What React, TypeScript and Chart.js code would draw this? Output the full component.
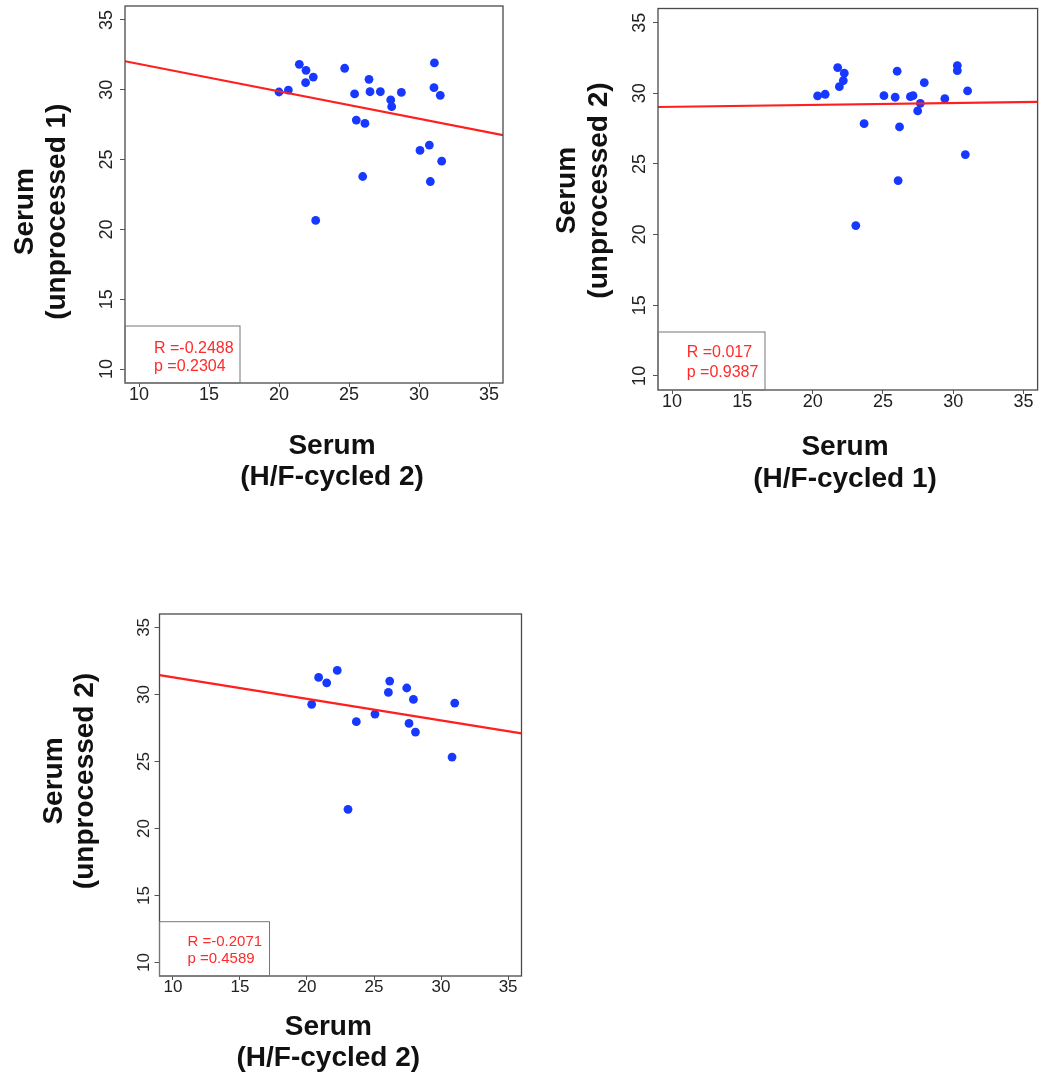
import React, { useEffect, useRef } from 'react';
import Chart from 'chart.js/auto';

// shared axis setup (R-style xlim/ylim 10..35, padded 4%)
const AXIS_TICKS = [10, 15, 20, 25, 30, 35];
const AXIS_MIN = 9;
const AXIS_MAX = 36;

// panel 1: H/F-cycled 2 vs unprocessed 1
const P1_X = [20.0, 20.67, 21.45, 21.93, 22.45, 21.9, 22.62, 24.69, 25.4, 25.52, 26.14, 25.98, 26.43, 26.5, 27.24, 27.98, 28.05, 28.74, 31.1, 31.07, 31.52, 30.07, 30.74, 31.62, 30.81];
const P1_Y = [29.84, 29.98, 31.82, 31.39, 30.91, 30.51, 20.64, 31.54, 29.7, 27.83, 27.59, 23.79, 30.75, 29.86, 29.86, 29.27, 28.79, 29.81, 31.92, 30.15, 29.6, 25.66, 26.04, 24.89, 23.43];
const P1_FIT = [33.81, -0.196]; // intercept, slope
const P1_STATS = ['R =-0.2488', 'p =0.2304'];
const P1_XTITLE = ['Serum', '(H/F-cycled 2)'];
const P1_YTITLE = ['Serum', '(unprocessed 1)'];

// panel 2: H/F-cycled 1 vs unprocessed 2
const P2_X = [20.35, 20.89, 21.78, 22.25, 22.18, 21.9, 23.07, 23.66, 25.07, 25.87, 26.01, 26.18, 26.08, 26.95, 27.14, 27.94, 27.66, 27.47, 29.4, 30.29, 30.29, 31.02, 30.86];
const P2_Y = [29.81, 29.93, 31.82, 31.42, 30.9, 30.47, 20.64, 27.85, 29.83, 29.72, 31.56, 27.62, 23.82, 29.76, 29.83, 30.75, 29.29, 28.75, 29.62, 31.96, 31.6, 30.17, 25.66];
const P2_FIT = [28.91, 0.0133];
const P2_STATS = ['R =0.017', 'p =0.9387'];
const P2_XTITLE = ['Serum', '(H/F-cycled 1)'];
const P2_YTITLE = ['Serum', '(unprocessed 2)'];

// panel 3: H/F-cycled 2 vs unprocessed 2
const P3_X = [20.35, 20.87, 21.47, 22.26, 23.06, 23.68, 25.07, 26.07, 26.17, 27.44, 27.94, 27.61, 28.09, 30.82, 31.02];
const P3_Y = [29.26, 31.27, 30.87, 31.79, 21.43, 27.97, 28.54, 30.15, 31.0, 30.48, 29.63, 27.84, 27.19, 25.33, 29.36];
const P3_FIT = [32.89, -0.161];
const P3_STATS = ['R =-0.2071', 'p =0.4589'];
const P3_XTITLE = ['Serum', '(H/F-cycled 2)'];
const P3_YTITLE = ['Serum', '(unprocessed 2)'];

const FONT = '"Liberation Sans", Arial, Helvetica, sans-serif';
const PAGE_W = 1042;
const PAGE_H = 1078;
const Y_AXIS_W = 60;
const X_AXIS_H = 40;

interface Layout {
  area: { left: number; top: number; right: number; bottom: number };
  tickSize: number;
  yLabelPad: number;
  statBox: { w: number; h: number; tx: number; b1: number; b2: number; size: number };
  xTitle: { cx: number; b1: number; b2: number };
  yTitle: { cy: number; b1: number; b2: number };
}

interface PanelProps {
  xs: number[];
  ys: number[];
  fit: number[];
  stats: string[];
  xTitle: string[];
  yTitle: string[];
  layout: Layout;
}

const ScatterPanel: React.FC<PanelProps> = ({ xs, ys, fit, stats, xTitle, yTitle, layout }) => {
  const canvasRef = useRef<HTMLCanvasElement>(null);
  const chartRef = useRef<Chart | null>(null);

  useEffect(() => {
    if (!canvasRef.current) return;
    if (chartRef.current) chartRef.current.destroy();

    const { area, statBox } = layout;
    const points = xs.map((x, i) => ({ x, y: ys[i] }));
    const fitLine = [AXIS_MIN, AXIS_MAX].map(x => ({ x, y: fit[0] + fit[1] * x }));

    // box around the plot, the R/p inset and the two-line axis titles
    const rFrame = {
      id: 'rFrame',
      afterDraw(chart: Chart) {
        const { ctx, chartArea: a } = chart;
        ctx.save();
        ctx.strokeStyle = '#4a4a4a';
        ctx.lineWidth = 1.3;
        ctx.strokeRect(a.left, a.top, a.right - a.left, a.bottom - a.top);

        ctx.strokeStyle = '#777';
        ctx.lineWidth = 1;
        ctx.strokeRect(a.left, a.bottom - statBox.h, statBox.w, statBox.h);
        ctx.fillStyle = '#ff2a2a';
        ctx.font = `${statBox.size}px ${FONT}`;
        ctx.textAlign = 'left';
        ctx.textBaseline = 'alphabetic';
        ctx.fillText(stats[0], a.left + statBox.tx, a.bottom - statBox.b1);
        ctx.fillText(stats[1], a.left + statBox.tx, a.bottom - statBox.b2);

        ctx.fillStyle = '#111';
        ctx.font = `bold 28px ${FONT}`;
        ctx.textAlign = 'center';
        ctx.fillText(xTitle[0], layout.xTitle.cx, layout.xTitle.b1);
        ctx.fillText(xTitle[1], layout.xTitle.cx, layout.xTitle.b2);

        ctx.translate(0, layout.yTitle.cy);
        ctx.rotate(-Math.PI / 2);
        ctx.fillText(yTitle[0], 0, layout.yTitle.b1);
        ctx.fillText(yTitle[1], 0, layout.yTitle.b2);
        ctx.restore();
      },
    };

    const fixTicks = (scale: any) => {
      scale.ticks = AXIS_TICKS.map(v => ({ value: v }));
    };
    const noPad = (scale: any) => {
      scale.paddingLeft = 0;
      scale.paddingRight = 0;
      scale.paddingTop = 0;
      scale.paddingBottom = 0;
    };

    chartRef.current = new Chart(canvasRef.current, {
      type: 'scatter',
      data: {
        datasets: [
          {
            label: 'fit',
            data: fitLine,
            showLine: true,
            borderColor: '#ff1f1f',
            borderWidth: 2.2,
            pointRadius: 0,
          },
          {
            label: 'samples',
            data: points,
            backgroundColor: '#1638ff',
            borderWidth: 0,
            pointRadius: 4.4,
          },
        ],
      },
      options: {
        animation: false,
        responsive: true,
        maintainAspectRatio: false,
        events: [],
        layout: {
          padding: {
            left: area.left - Y_AXIS_W,
            top: area.top,
            right: PAGE_W - area.right,
            bottom: PAGE_H - area.bottom - X_AXIS_H,
          },
        },
        plugins: {
          legend: { display: false },
          tooltip: { enabled: false },
        },
        scales: {
          x: {
            type: 'linear',
            min: AXIS_MIN,
            max: AXIS_MAX,
            afterBuildTicks: fixTicks,
            afterFit: (s: any) => {
              s.height = X_AXIS_H;
              noPad(s);
            },
            border: { display: false },
            grid: { display: true, drawOnChartArea: false, drawTicks: true, tickLength: 4, tickColor: '#555' },
            ticks: {
              autoSkip: false,
              maxRotation: 0,
              padding: -3,
              color: '#222',
              font: { family: FONT, size: layout.tickSize },
            },
          },
          y: {
            type: 'linear',
            min: AXIS_MIN,
            max: AXIS_MAX,
            afterBuildTicks: fixTicks,
            afterFit: (s: any) => {
              s.width = Y_AXIS_W;
              noPad(s);
            },
            border: { display: false },
            grid: { display: true, drawOnChartArea: false, drawTicks: true, tickLength: 5, tickColor: '#555' },
            ticks: {
              autoSkip: false,
              minRotation: 90,
              maxRotation: 90,
              crossAlign: 'center',
              padding: layout.yLabelPad,
              color: '#222',
              font: { family: FONT, size: layout.tickSize },
            },
          },
        },
      },
      plugins: [rFrame],
    } as any);

    return () => {
      if (chartRef.current) {
        chartRef.current.destroy();
        chartRef.current = null;
      }
    };
  }, [xs, ys, fit, stats, xTitle, yTitle, layout]);

  return (
    <div style={{ position: 'absolute', left: 0, top: 0, width: PAGE_W, height: PAGE_H }}>
      <canvas ref={canvasRef}></canvas>
    </div>
  );
};

const LAYOUT_1: Layout = {
  area: { left: 125, top: 6, right: 503, bottom: 383 },
  tickSize: 18,
  yLabelPad: 2.5,
  statBox: { w: 115, h: 57, tx: 29, b1: 30.5, b2: 12, size: 16 },
  xTitle: { cx: 332, b1: 453.5, b2: 485 },
  yTitle: { cy: 211.7, b1: 33.3, b2: 65.3 },
};

const LAYOUT_2: Layout = {
  area: { left: 658, top: 8.5, right: 1040.5, bottom: 390 },
  tickSize: 18,
  yLabelPad: 2.5,
  statBox: { w: 107, h: 58, tx: 28.7, b1: 32.7, b2: 13.3, size: 16 },
  xTitle: { cx: 845, b1: 455, b2: 487 },
  yTitle: { cy: 190.5, b1: 575, b2: 607 },
};

const LAYOUT_3: Layout = {
  area: { left: 159.5, top: 614, right: 521.5, bottom: 976 },
  tickSize: 17,
  yLabelPad: 0.5,
  statBox: { w: 110, h: 54.3, tx: 28, b1: 30.3, b2: 12.7, size: 15 },
  xTitle: { cx: 328.3, b1: 1035, b2: 1066 },
  yTitle: { cy: 781, b1: 61.7, b2: 93 },
};

export default function App() {
  return (
    <div style={{ position: 'absolute', left: 0, top: 0, width: PAGE_W, height: PAGE_H, background: '#fff' }}>
      <ScatterPanel xs={P1_X} ys={P1_Y} fit={P1_FIT} stats={P1_STATS} xTitle={P1_XTITLE} yTitle={P1_YTITLE} layout={LAYOUT_1} />
      <ScatterPanel xs={P2_X} ys={P2_Y} fit={P2_FIT} stats={P2_STATS} xTitle={P2_XTITLE} yTitle={P2_YTITLE} layout={LAYOUT_2} />
      <ScatterPanel xs={P3_X} ys={P3_Y} fit={P3_FIT} stats={P3_STATS} xTitle={P3_XTITLE} yTitle={P3_YTITLE} layout={LAYOUT_3} />
    </div>
  );
}
